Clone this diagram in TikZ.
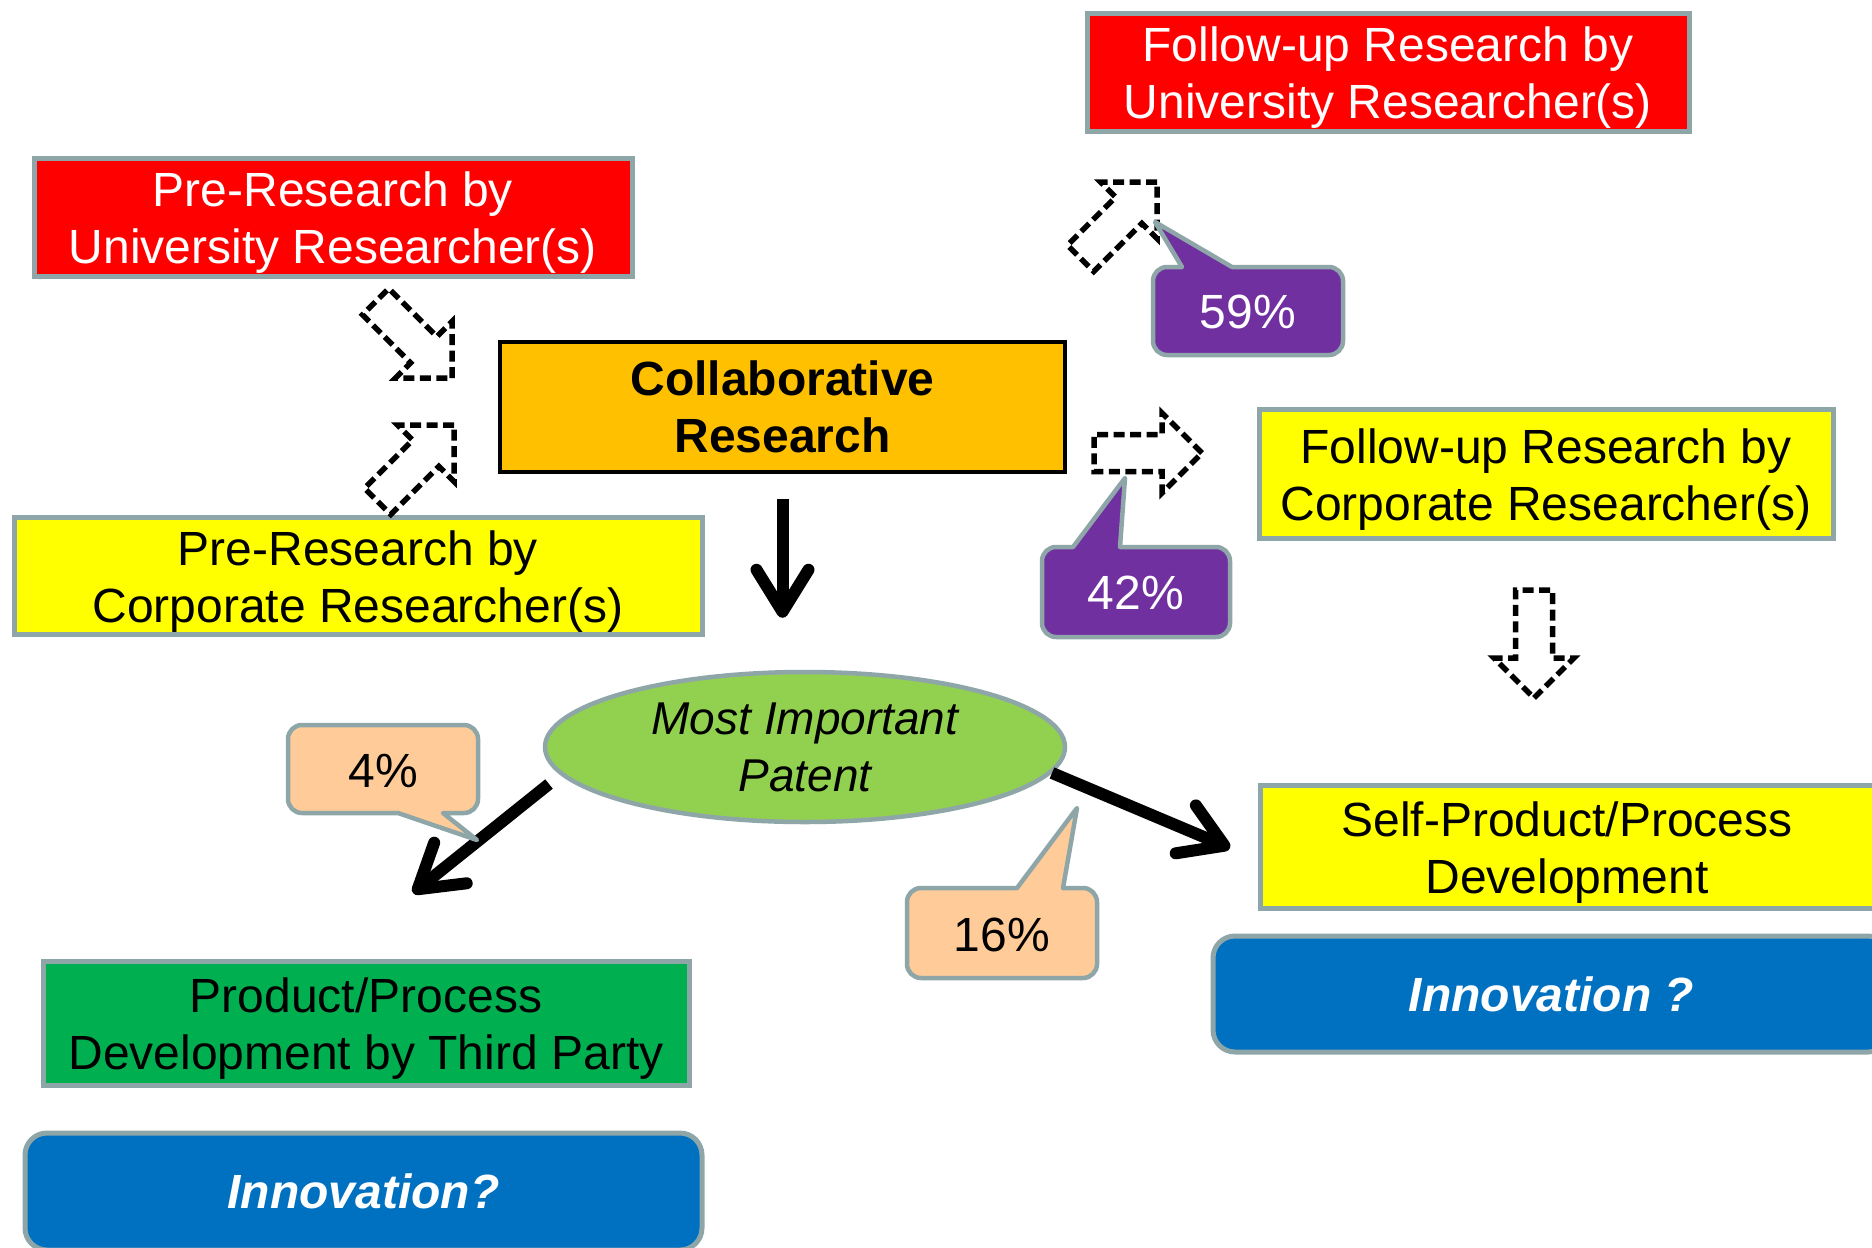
\documentclass[tikz,border=0pt]{standalone}
\usepackage{fontspec}
\setmainfont{Liberation Sans}
\usetikzlibrary{shapes.geometric,arrows.meta}

\definecolor{edge}{HTML}{8FA6A9}
\definecolor{boxred}{HTML}{FF0000}
\definecolor{boxyellow}{HTML}{FFFF00}
\definecolor{boxorange}{HTML}{FFC000}
\definecolor{boxgreen}{HTML}{00B050}
\definecolor{patentgreen}{HTML}{92D050}
\definecolor{tagpurple}{HTML}{7030A0}
\definecolor{tagpeach}{HTML}{FFCC99}
\definecolor{innoblue}{HTML}{0070C0}

\newcommand\labelfont{\fontsize{48}{57}\selectfont}
% balances the descenders of the last line so the two lines sit centred
\newcommand\headroom{\rule{0pt}{46pt}}

\tikzset{
  box/.style={draw=edge,line width=5pt,inner sep=0pt,align=center,font=\labelfont},
  tag/.style={draw=edge,line width=4.5pt,line join=round},
  tagtext/.style={inner sep=0pt,font=\labelfont},
  holarrow/.style={draw=black,line width=5.5pt,dash pattern=on 11pt off 5.5pt},
  flow/.style={line width=12pt,-{Straight Barb[length=42pt,width=52pt,round]}},
  % hollow dashed block arrow, tip at the origin, pointing along +x
  blockarr/.pic={\path[holarrow] (0,0) -- (-40,-40) -- (-40,-18.5) -- (-108,-18.5)
      -- (-108,18.5) -- (-40,18.5) -- (-40,40) -- cycle;}
}

\begin{document}
\begin{tikzpicture}[x=1pt,y=-1pt]
\fill[white] (0,0) rectangle (1872,1248);
\useasboundingbox (0,0) rectangle (1872,1248);

% research boxes
\node[box,fill=boxred,text=white,minimum width=598pt,minimum height=118pt] (preU) at (333,217)
  {\headroom Pre-Research by\\University Researcher(s)};
\node[box,fill=boxred,text=white,minimum width=602pt,minimum height=118pt] (fupU) at (1388,72)
  {\headroom Follow-up Research by\\University Researcher(s)};
\node[box,draw=black,line width=4pt,fill=boxorange,font=\labelfont\bfseries,
  minimum width=565pt,minimum height=130pt] (collab) at (782.5,407)
  {Collaborative\\Research};
\node[box,fill=boxyellow,minimum width=688pt,minimum height=117pt] (preC) at (358,575.5)
  {\headroom Pre-Research by\\Corporate Researcher(s)};
\node[box,fill=boxyellow,minimum width=574pt,minimum height=129pt] (fupC) at (1546,473.5)
  {\headroom Follow-up Research by\\Corporate Researcher(s)};
\node[box,fill=boxyellow,minimum width=614pt,minimum height=123pt] (selfdev) at (1567,846.5)
  {\headroom Self-Product/Process\\Development};
\node[box,fill=boxgreen,minimum width=646pt,minimum height=124pt] (third) at (366,1023)
  {\headroom Product/Process\\Development by Third Party};
\node[box,fill=innoblue,text=white,rounded corners=22pt,font=\labelfont\bfseries\itshape,
  minimum width=677pt,minimum height=117pt] (innovL) at (363.5,1191.5) {Innovation?};
\node[box,fill=innoblue,text=white,rounded corners=22pt,font=\labelfont\bfseries\itshape,
  minimum width=677pt,minimum height=116pt] (innovR) at (1551.5,994) {Innovation ?};

% the patent
\node[ellipse,draw=edge,line width=4.5pt,fill=patentgreen,inner sep=0pt,align=center,
  font=\fontsize{46}{57}\selectfont\itshape,minimum width=520pt,minimum height=150pt]
  (patent) at (805,747) {Most Important\\Patent};

% hollow dashed arrows
\pic[rotate=-45] at (452,378) {blockarr};
\pic[rotate=45] at (454,425) {blockarr};
\pic[rotate=45] at (1157,182) {blockarr};
\pic at (1202,453) {blockarr};
\pic[rotate=-90] at (1534,698) {blockarr};

% solid flow arrows
\coordinate (leftstart) at (549,784);
\coordinate (leftend) at (413,893);
\coordinate (rightend) at (1230,848);
\draw[flow,shorten <=25pt,shorten >=52pt] (collab.south) -- (collab.south |- patent.north);
\draw[flow] (leftstart) -- (leftend);
\draw[flow] (patent.-6) -- (rightend);

% share callouts
\draw[tag,fill=tagpurple] (1167,267) -- (1182,267) -- (1155,222) -- (1232,267) -- (1329,267)
  arc[start angle=270,end angle=360,radius=14] -- (1343,341)
  arc[start angle=0,end angle=90,radius=14] -- (1167,355)
  arc[start angle=90,end angle=180,radius=14] -- (1153,281)
  arc[start angle=180,end angle=270,radius=14] -- cycle;
\node[tagtext,text=white] (t59) at (1248,312) {59\%};

\draw[tag,fill=tagpurple] (1056,547) -- (1073,547) -- (1125,478) -- (1120,547) -- (1216,547)
  arc[start angle=270,end angle=360,radius=14] -- (1230,623)
  arc[start angle=0,end angle=90,radius=14] -- (1056,637)
  arc[start angle=90,end angle=180,radius=14] -- (1042,561)
  arc[start angle=180,end angle=270,radius=14] -- cycle;
\node[tagtext,text=white] (t42) at (1136,593) {42\%};

\draw[tag,fill=tagpeach] (302,725) -- (464,725)
  arc[start angle=270,end angle=360,radius=14] -- (478,799)
  arc[start angle=0,end angle=90,radius=14] -- (443,813) -- (477,840) -- (398,813) -- (302,813)
  arc[start angle=90,end angle=180,radius=14] -- (288,739)
  arc[start angle=180,end angle=270,radius=14] -- cycle;
\node[tagtext] (t4) at (383,771) {4\%};

\draw[tag,fill=tagpeach] (921,888) -- (1017,888) -- (1077,808) -- (1063,888) -- (1083,888)
  arc[start angle=270,end angle=360,radius=14] -- (1097,964)
  arc[start angle=0,end angle=90,radius=14] -- (921,978)
  arc[start angle=90,end angle=180,radius=14] -- (907,902)
  arc[start angle=180,end angle=270,radius=14] -- cycle;
\node[tagtext] (t16) at (1002,935) {16\%};
\end{tikzpicture}
\end{document}
